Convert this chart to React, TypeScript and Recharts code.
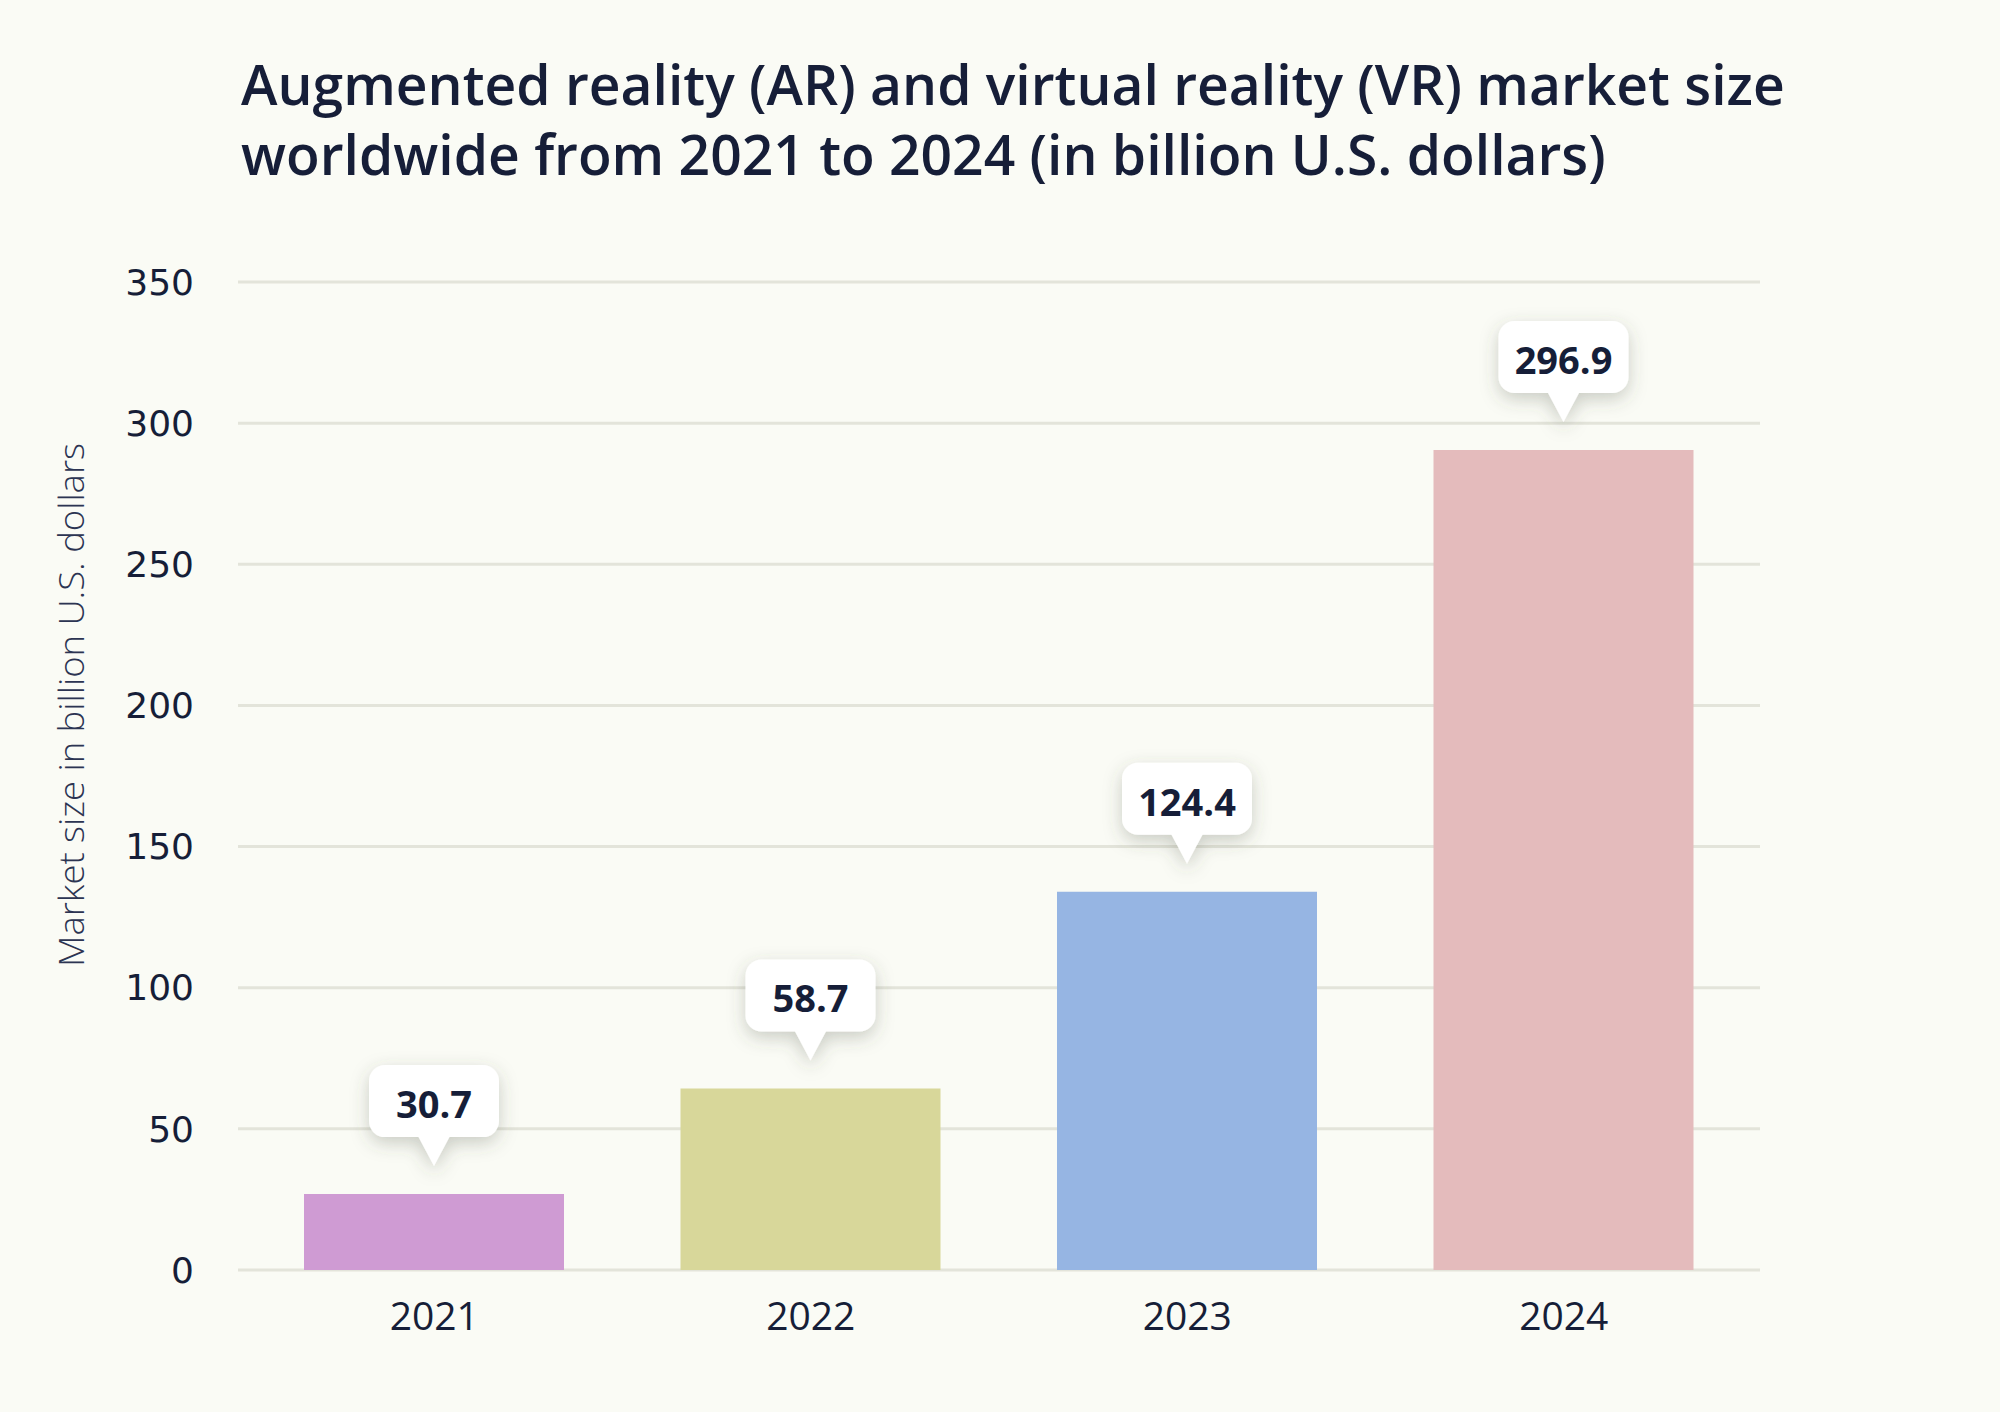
import { BarChart, Bar, XAxis, YAxis, CartesianGrid, Cell, LabelList } from "recharts";

const years = ["2021", "2022", "2023", "2024"];
// bar heights as drawn in the picture
const barHeights = [26.9, 64.3, 134.0, 290.5];
// values printed in the callouts
const valueLabels = ["30.7", "58.7", "124.4", "296.9"];
const barColors = ["#cf9bd3", "#d8d79a", "#96b5e3", "#e4bbbc"];
const yTicks = [0, 50, 100, 150, 200, 250, 300, 350];

const data = years.map((year, i) => ({ year, value: barHeights[i], label: valueLabels[i] }));

const INK = "#161e38";
const BG = "#fafbf5";

const Callout = (props: any) => {
  const { x, y, width, value } = props;
  const cx = x + width / 2;
  const tipY = y - 28;
  const boxBottom = tipY - 29;
  const boxH = 72;
  const boxW = 130;
  const boxTop = boxBottom - boxH;
  return (
    <g>
      <g filter="url(#calloutShadow)">
        <rect x={cx - boxW / 2} y={boxTop} width={boxW} height={boxH} rx={16} fill="#fff" />
        <path d={`M${cx - 16},${boxBottom - 1} L${cx + 16},${boxBottom - 1} L${cx},${tipY} Z`} fill="#fff" />
      </g>
      <text
        x={cx}
        y={boxTop + boxH / 2 + 2}
        textAnchor="middle"
        dominantBaseline="central"
        fontFamily="Open Sans"
        fontWeight={700}
        fontSize={38}
        fill={INK}
      >
        {value}
      </text>
    </g>
  );
};

const YLabel = () => (
  <text
    x={71}
    y={705}
    transform="rotate(-90 71 705)"
    textAnchor="middle"
    dominantBaseline="central"
    fontFamily="Open Sans"
    fontWeight={300}
    fontSize={34}
    fill="#2c3452"
    textLength={524}
    lengthAdjust="spacingAndGlyphs"
  >
    Market size in billion U.S. dollars
  </text>
);

export default function App() {
  return (
    <div style={{ position: "absolute", left: 0, top: 0, width: 2000, height: 1412, background: BG, overflow: "hidden" }}>
      <div
        style={{
          position: "absolute",
          left: 241,
          top: 49,
          fontFamily: "Open Sans",
          fontWeight: 600,
          fontSize: 55.2,
          lineHeight: "70px",
          color: INK,
          whiteSpace: "nowrap",
        }}
      >
        Augmented reality (AR) and virtual reality (VR) market size
        <br />
        worldwide from 2021 to 2024 (in billion U.S. dollars)
      </div>
      <BarChart
        width={2000}
        height={1412}
        data={data}
        margin={{ top: 282, right: 240, bottom: 62, left: 0 }}
        style={{ position: "absolute", left: 0, top: 0 }}
      >
        <defs>
          <filter id="calloutShadow" x="-40%" y="-40%" width="180%" height="200%">
            <feDropShadow dx="0" dy="6" stdDeviation="9" floodColor="#4a5040" floodOpacity="0.28" />
          </filter>
        </defs>
        <CartesianGrid horizontal vertical={false} stroke="#e3e4da" strokeWidth={3} />
        <XAxis
          dataKey="year"
          height={80}
          axisLine={false}
          tickLine={false}
          tickMargin={26}
          padding={{ left: 8, right: 8 }}
          tick={{ fill: INK, fontSize: 39, fontFamily: "Open Sans", fontWeight: 400 }}
        />
        <YAxis
          width={238}
          domain={[0, 350]}
          ticks={yTicks}
          axisLine={false}
          tickLine={false}
          tickMargin={38}
          tick={{ fill: INK, fontSize: 36, fontFamily: "DejaVu Sans" }}
          label={<YLabel />}
        />
        <Bar dataKey="value" barSize={260} isAnimationActive={false}>
          {data.map((d, i) => (
            <Cell key={d.year} fill={barColors[i]} />
          ))}
          <LabelList dataKey="label" content={<Callout />} />
        </Bar>
      </BarChart>
    </div>
  );
}
